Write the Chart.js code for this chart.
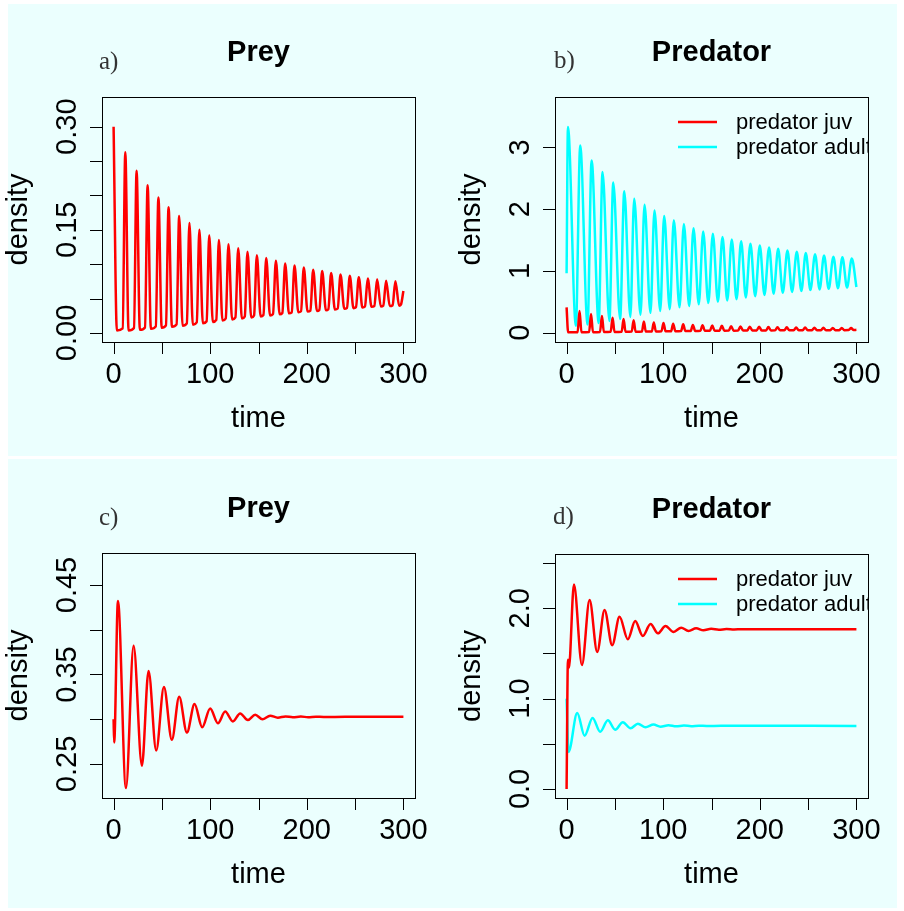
<!DOCTYPE html>
<html><head><meta charset="utf-8">
<script src="https://cdn.jsdelivr.net/npm/chart.js@4"></script>
<style>
body{margin:0;background:#fff;width:904px;height:911px;position:relative;overflow:hidden}
.bg{position:absolute;background:#EBFFFE}
canvas{position:absolute}
</style></head><body>
<div class="bg" style="left:8px;top:4px;width:889px;height:452px"></div>
<div class="bg" style="left:8px;top:459px;width:889px;height:449px"></div>
<canvas id="ca" width="452" height="456" style="left:0;top:0"></canvas>
<canvas id="cb" width="452" height="456" style="left:452px;top:0"></canvas>
<canvas id="cc" width="452" height="455" style="left:0;top:456px"></canvas>
<canvas id="cd" width="452" height="455" style="left:452px;top:456px"></canvas>
<script>
// ---------- data ----------
const xTickVals = [0, 50, 100, 150, 200, 250, 300];
const xTickLabels = ['0', '', '100', '', '200', '', '300'];

const aYTicks = [0, 0.05, 0.10, 0.15, 0.20, 0.25, 0.30];
const aYLabels = ['0.00', '', '', '0.15', '', '', '0.30'];
const bYTicks = [0, 1, 2, 3];
const bYLabels = ['0', '1', '2', '3'];
const cYTicks = [0.25, 0.30, 0.35, 0.40, 0.45];
const cYLabels = ['0.25', '', '0.35', '', '0.45'];
const dYTicks = [0, 0.5, 1.0, 1.5, 2.0, 2.5];
const dYLabels = ['0.0', '', '1.0', '', '2.0', ''];

// a) prey (oscillating)
const preyAT = [0,
  3.4, 9.4, 12.1,  15.5, 21.1, 23.8,  27.2, 32.5, 35.2,  38.6, 43.7, 46.4,
  49.8, 54.2, 56.9,  60.4, 65.2, 67.9,  71.4, 75.8, 78.5,  82.0, 86.1, 88.8,
  92.4, 96.3, 99.0,  102.7, 106.3, 109.0,  112.7, 116.1, 118.9,  122.7, 126.1, 129.0,
  132.8, 135.8, 138.6,  142.5, 145.4, 148.3,  152.2, 155.1, 158.0,  161.9, 165.0, 168.0,
  171.9, 174.7, 177.6,  181.5, 184.4, 187.3,  191.2, 194.0, 196.9,  200.8, 203.7, 206.6,
  210.5, 213.0, 215.9,  219.8, 222.3, 225.2,  229.1, 232.0, 234.9,  238.8, 241.6, 244.5,
  248.3, 250.9, 253.8,  257.6, 260.2, 263.1,  267.0, 269.9, 272.8,  276.6, 279.2, 282.1,
  285.9, 288.8, 291.7,  295.6, 297.4, 300];
const preyAV = [0.300,
  0.0035, 0.0065, 0.263,  0.0035, 0.007, 0.236,  0.0045, 0.008, 0.215,  0.006, 0.0095, 0.197,
  0.0075, 0.011, 0.183,  0.009, 0.0125, 0.170,  0.0105, 0.014, 0.160,  0.012, 0.0155, 0.150,
  0.014, 0.017, 0.142,  0.016, 0.019, 0.135,  0.018, 0.021, 0.129,  0.0195, 0.0225, 0.123,
  0.021, 0.024, 0.118,  0.0225, 0.0255, 0.113,  0.024, 0.026, 0.109,  0.0255, 0.0275, 0.105,
  0.027, 0.029, 0.101,  0.0285, 0.030, 0.098,  0.030, 0.0315, 0.095,  0.031, 0.0325, 0.092,
  0.032, 0.0335, 0.090,  0.033, 0.0345, 0.087,  0.034, 0.0355, 0.085,  0.035, 0.0365, 0.083,
  0.036, 0.0375, 0.081,  0.037, 0.0385, 0.079,  0.038, 0.0392, 0.078,  0.0385, 0.0398, 0.076,
  0.039, 0.0403, 0.075,  0.0395, 0.041, 0.061];

// b) predator juv / adult (oscillating)
const juvBT = [0, 1.6, 11.4, 13.4, 15.4, 23.3, 25.3, 27.3, 34.6, 36.6, 38.6, 45.6, 47.6, 49.6, 57.0, 59.0,
  61.0, 67.4, 69.4, 71.4, 78.0, 80.0, 82.0, 88.3, 90.3, 92.4, 98.2, 100.3, 102.5, 108.2, 110.3,
  112.6, 118.5, 120.7, 123.0, 128.5, 130.7, 133.1, 138.5, 140.7, 143.2, 148.4, 150.7, 153.3, 158.3, 160.7,
  163.3, 167.9, 170.3, 172.9, 177.5, 180.0, 182.7, 187.1, 189.6, 192.3, 196.8, 199.3, 202.0, 206.4, 208.9,
  211.6, 215.8, 218.3, 221.0, 225.4, 227.9, 230.6, 235.1, 237.6, 240.3, 244.4, 246.9, 249.6, 254.0, 256.5,
  259.2, 263.3, 265.8, 268.5, 273.0, 275.5, 278.2, 282.3, 284.8, 287.5, 292.0, 294.5, 297.2, 300];
const juvBV = [0.41, 0.004, 0.006, 0.35, 0.005, 0.008, 0.30, 0.007, 0.010, 0.27, 0.009, 0.012, 0.24, 0.011, 0.014, 0.22,
  0.013, 0.016, 0.20, 0.015, 0.018, 0.18, 0.017, 0.020, 0.165, 0.019, 0.022, 0.155, 0.021, 0.024, 0.145,
  0.023, 0.026, 0.135, 0.025, 0.028, 0.125, 0.027, 0.030, 0.120, 0.029, 0.031, 0.115, 0.030, 0.032, 0.110,
  0.031, 0.033, 0.105, 0.032, 0.034, 0.100, 0.033, 0.035, 0.097, 0.034, 0.036, 0.094, 0.035, 0.036, 0.091,
  0.036, 0.037, 0.088, 0.037, 0.038, 0.086, 0.038, 0.038, 0.084, 0.038, 0.039, 0.082, 0.039, 0.039, 0.080,
  0.039, 0.040, 0.078, 0.040, 0.040, 0.076, 0.040, 0.040, 0.075, 0.040, 0.041, 0.074, 0.041, 0.045];
const adultBT = [0, 1.4, 9.6, 14.1, 21.7, 25.9, 33.2, 37.2, 44.3, 48.3, 55.4, 59.7, 66.0, 70.0, 76.5, 80.7,
  86.8, 91.0, 96.9, 101.0, 106.8, 111.0, 116.9, 121.4, 126.9, 131.4, 136.8, 141.4, 146.7, 151.4,
  156.6, 161.4, 166.3, 171.0, 175.9, 180.7, 185.5, 190.3, 195.2, 200.0, 204.8, 209.6, 214.3, 219.0,
  223.8, 228.6, 233.4, 238.3, 243.0, 247.6, 252.4, 257.2, 261.9, 266.5, 271.3, 276.2, 280.9, 285.5,
  290.3, 295.2, 300];
const adultBV = [0.96, 3.33, 0.11, 3.03, 0.13, 2.79, 0.155, 2.60, 0.19, 2.43, 0.22, 2.29, 0.255, 2.17, 0.29, 2.07,
  0.32, 1.98, 0.35, 1.89, 0.38, 1.82, 0.41, 1.76, 0.43, 1.69, 0.46, 1.64, 0.48, 1.60,
  0.50, 1.55, 0.52, 1.51, 0.54, 1.48, 0.57, 1.44, 0.59, 1.41, 0.61, 1.38, 0.63, 1.36,
  0.645, 1.33, 0.66, 1.31, 0.675, 1.29, 0.69, 1.27, 0.70, 1.25, 0.71, 1.23, 0.72, 1.22,
  0.73, 1.20, 0.74];

// c) prey (damped)
const preyCT = [0, 0.6, 4.5, 12.8, 20.7, 29.3, 36.2, 44.1, 52.1, 60.3, 67.9, 75.9, 83.8, 91.7, 100.0, 108.0,
  115.5, 123.5, 131.0, 139.0, 146.6, 154.1, 162.1, 170.0, 177.9, 185.5, 193.8, 201.4, 209.5, 217.5, 240, 300];
const preyCV = [0.300, 0.274, 0.432, 0.223, 0.382, 0.248, 0.354, 0.265, 0.336, 0.277, 0.325, 0.285, 0.317, 0.291, 0.312, 0.2955,
  0.3085, 0.2975, 0.3065, 0.299, 0.305, 0.300, 0.3039, 0.3017, 0.3031, 0.3022, 0.3029, 0.3023, 0.3027, 0.3025, 0.3026, 0.3026];

// d) predator juv / adult (damped)
const juvDT = [0, 1.4, 2.4, 7.6, 15.9, 23.8, 31.7, 39.3, 47.2, 54.8, 63.4, 71.0, 78.9, 86.9, 94.5, 102.4,
  110.7, 118.6, 126.2, 134.1, 141.7, 149.7, 157.6, 165.5, 173.4, 181.3, 200, 300];
const juvDV = [0.0, 1.43, 1.34, 2.262, 1.373, 2.09, 1.516, 1.98, 1.59, 1.906, 1.656, 1.858, 1.693, 1.825, 1.722, 1.803,
  1.737, 1.785, 1.748, 1.777, 1.756, 1.772, 1.762, 1.769, 1.765, 1.768, 1.767, 1.767];
const adultDT = [0, 2.0, 11.0, 18.6, 26.9, 34.8, 42.7, 50.3, 58.2, 66.2, 73.8, 81.7, 90.0, 97.2, 105.5, 113.4,
  121.4, 129.0, 137.0, 145.0, 160, 300];
const adultDV = [1.0, 0.41, 0.84, 0.59, 0.785, 0.632, 0.76, 0.655, 0.738, 0.672, 0.722, 0.682, 0.712, 0.689, 0.706, 0.693,
  0.702, 0.695, 0.700, 0.697, 0.699, 0.698];

const legendLabels = ['predator juv', 'predator adult'];
const RED = '#FF0000', CYAN = '#00FFFF';

// ---------- drawing ----------
function pts(t, v) { return t.map((x, i) => ({x: x, y: v[i]})); }

const FONT = '"Liberation Sans", Arial, Helvetica, sans-serif';

function deco(p) {
  return {
    id: 'rdeco_' + p.id,
    afterDraw(chart) {
      const ctx = chart.ctx, a = chart.chartArea;
      const xs = chart.scales.x, ys = chart.scales.y;
      const L = Math.round(a.left), R = Math.round(a.right), T = Math.round(a.top), B = Math.round(a.bottom);
      ctx.save();
      ctx.strokeStyle = '#000'; ctx.lineWidth = 1; ctx.fillStyle = '#000';
      ctx.strokeRect(L + 0.5, T + 0.5, R - L, B - T);
      // x ticks
      ctx.beginPath();
      xTickVals.forEach(v => { const px = Math.round(xs.getPixelForValue(v)) + 0.5; ctx.moveTo(px, B); ctx.lineTo(px, B + 12); });
      ctx.stroke();
      ctx.font = '29px ' + FONT; ctx.textAlign = 'center'; ctx.textBaseline = 'alphabetic';
      xTickVals.forEach((v, i) => { if (xTickLabels[i]) ctx.fillText(xTickLabels[i], xs.getPixelForValue(v), B + 41); });
      // y ticks
      ctx.beginPath();
      p.yt.forEach(v => { const py = Math.round(ys.getPixelForValue(v)) + 0.5; ctx.moveTo(L - 12, py); ctx.lineTo(L, py); });
      ctx.stroke();
      p.yt.forEach((v, i) => {
        if (!p.yl[i]) return;
        ctx.save(); ctx.translate(L - 26, ys.getPixelForValue(v)); ctx.rotate(-Math.PI / 2);
        ctx.fillText(p.yl[i], 0, 0); ctx.restore();
      });
      // axis titles
      ctx.fillText('time', (L + R) / 2, B + 85);
      ctx.save(); ctx.translate(L - 75, (T + B) / 2); ctx.rotate(-Math.PI / 2);
      ctx.fillText('density', 0, 0); ctx.restore();
      // main title
      ctx.font = 'bold 29px ' + FONT;
      ctx.fillText(p.title, (L + R) / 2, T - 36);
      // tag
      ctx.font = '25px "Liberation Serif", "DejaVu Serif", serif';
      ctx.fillStyle = '#333'; ctx.textAlign = 'left';
      ctx.fillText(p.tag, p.tagX, p.tagY);
      // legend (clipped to plot region)
      if (p.legend) {
        ctx.save();
        ctx.beginPath(); ctx.rect(L, T, R - L, B - T); ctx.clip();
        ctx.font = '22px ' + FONT; ctx.textBaseline = 'middle'; ctx.fillStyle = '#000';
        chart.data.datasets.forEach((ds, i) => {
          const ly = T + 25 + i * 25;
          ctx.strokeStyle = ds.borderColor; ctx.lineWidth = 2.5;
          ctx.beginPath(); ctx.moveTo(L + 123, ly); ctx.lineTo(L + 162, ly); ctx.stroke();
          ctx.fillText(ds.label, L + 181, ly + 1);
        });
        ctx.restore();
      }
      ctx.restore();
    }
  };
}

const panels = [
  {id: 'ca', tag: 'a)', tagX: 99, tagY: 69, title: 'Prey', pad: {left: 102, top: 97, right: 37, bottom: 114},
   ymin: -0.0132, ymax: 0.3432, yt: aYTicks, yl: aYLabels, legend: false,
   sets: [{label: 'prey', data: pts(preyAT, preyAV), color: RED}]},
  {id: 'cb', tag: 'b)', tagX: 102, tagY: 68, title: 'Predator', pad: {left: 103, top: 97, right: 36, bottom: 114},
   ymin: -0.152, ymax: 3.817, yt: bYTicks, yl: bYLabels, legend: true,
   sets: [{label: legendLabels[0], data: pts(juvBT, juvBV), color: RED},
          {label: legendLabels[1], data: pts(adultBT, adultBV), color: CYAN}]},
  {id: 'cc', tag: 'c)', tagX: 99, tagY: 69, title: 'Prey', pad: {left: 102, top: 97, right: 37, bottom: 113},
   ymin: 0.2119, ymax: 0.4858, yt: cYTicks, yl: cYLabels, legend: false,
   sets: [{label: 'prey', data: pts(preyCT, preyCV), color: RED}]},
  {id: 'cd', tag: 'd)', tagX: 101, tagY: 68, title: 'Predator', pad: {left: 103, top: 98, right: 36, bottom: 113},
   ymin: -0.1, ymax: 2.6, yt: dYTicks, yl: dYLabels, legend: true,
   sets: [{label: legendLabels[0], data: pts(juvDT, juvDV), color: RED},
          {label: legendLabels[1], data: pts(adultDT, adultDV), color: CYAN}]}
];

panels.forEach(p => {
  new Chart(document.getElementById(p.id), {
    type: 'line',
    data: {datasets: p.sets.map(s => ({label: s.label, data: s.data, borderColor: s.color, borderWidth: 2.5,
      pointRadius: 0, fill: false, cubicInterpolationMode: 'monotone', tension: 0.4}))},
    options: {
      responsive: false, animation: false, devicePixelRatio: 1,
      layout: {padding: p.pad},
      scales: {
        x: {type: 'linear', min: -12, max: 312, display: false},
        y: {type: 'linear', min: p.ymin, max: p.ymax, display: false}
      },
      plugins: {legend: {display: false}, tooltip: {enabled: false}, title: {display: false}}
    },
    plugins: [deco(p)]
  });
});
</script>
</body></html>
